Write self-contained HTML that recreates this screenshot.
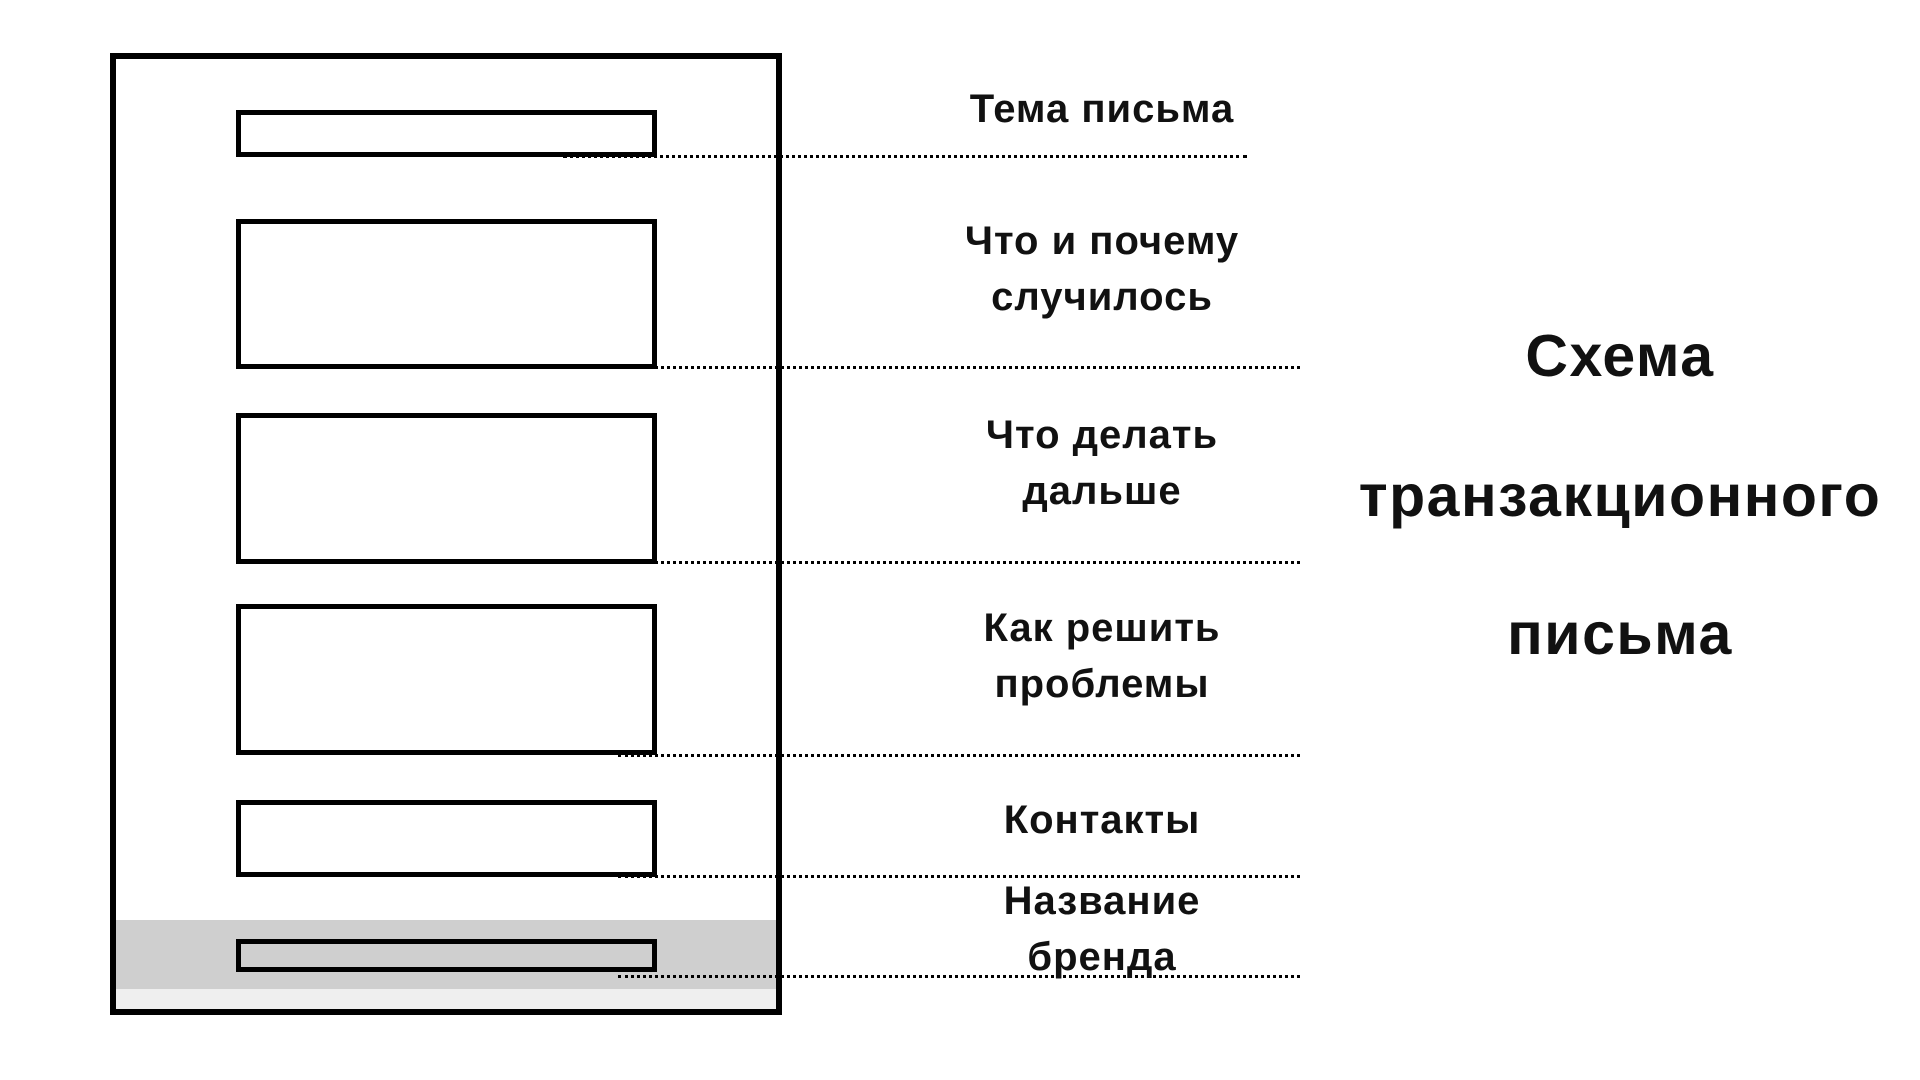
<!DOCTYPE html>
<html><head><meta charset="utf-8"><style>
html,body{margin:0;padding:0;background:#fff;width:1920px;height:1080px;overflow:hidden;position:relative;font-family:"Liberation Sans","DejaVu Sans",sans-serif;}
.a{position:absolute;box-sizing:border-box;}
.frame{left:110px;top:53px;width:672px;height:962px;border:6px solid #000;}
.box{left:236px;width:421px;border:5px solid #000;}
.dot{height:0;border-top:3px dotted #000;}
.lbl{left:850px;width:504px;text-align:center;font-weight:bold;font-size:40px;letter-spacing:1px;color:#111;line-height:56px;}
.t{left:1300px;width:640px;text-align:center;font-weight:bold;font-size:59px;letter-spacing:1.5px;color:#111;line-height:60px;}
</style></head><body>
<div class="a" style="left:116px;top:920px;width:660px;height:69px;background:#cfcfcf"></div>
<div class="a" style="left:116px;top:989px;width:660px;height:20px;background:#efefef"></div>
<div class="a frame"></div>
<div class="a box" style="top:110px;height:47px"></div>
<div class="a box" style="top:219px;height:150px"></div>
<div class="a box" style="top:413px;height:151px"></div>
<div class="a box" style="top:604px;height:151px"></div>
<div class="a box" style="top:800px;height:77px"></div>
<div class="a box" style="top:939px;height:33px"></div>
<div class="a dot" style="left:563px;width:684px;top:155px"></div>
<div class="a dot" style="left:618px;width:682px;top:366px"></div>
<div class="a dot" style="left:618px;width:682px;top:561px"></div>
<div class="a dot" style="left:618px;width:682px;top:754px"></div>
<div class="a dot" style="left:618px;width:682px;top:875px"></div>
<div class="a dot" style="left:618px;width:682px;top:975px"></div>
<div class="a lbl" style="top:81px">Тема письма</div>
<div class="a lbl" style="top:213px">Что и почему<br>случилось</div>
<div class="a lbl" style="top:407px">Что делать<br>дальше</div>
<div class="a lbl" style="top:600px">Как решить<br>проблемы</div>
<div class="a lbl" style="top:792px">Контакты</div>
<div class="a lbl" style="top:873px">Название<br>бренда</div>
<div class="a t" style="top:326px">Схема</div>
<div class="a t" style="top:466px">транзакционного</div>
<div class="a t" style="top:604px">письма</div>
</body></html>
